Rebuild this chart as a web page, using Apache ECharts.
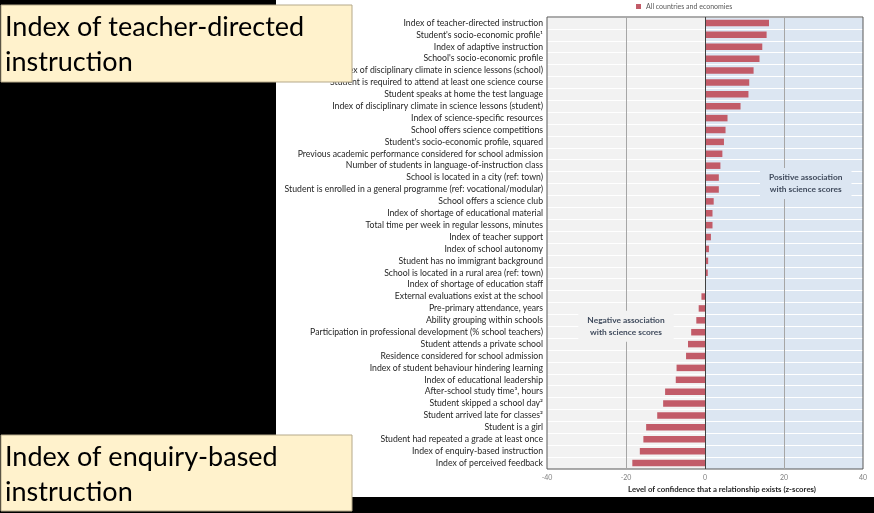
<!DOCTYPE html>
<html>
<head>
<meta charset="utf-8">
<script src="https://cdn.jsdelivr.net/npm/echarts@6/dist/echarts.min.js"></script>
<style>
html,body{margin:0;padding:0;background:#000;}
#chart{width:874px;height:513px;}
</style>
</head>
<body>
<div id="chart"></div>
<script>
const categories = [
  "Index of teacher-directed instruction",
  "Student's socio-economic profile\u00b9",
  "Index of adaptive instruction",
  "School's socio-economic profile",
  "Index of disciplinary climate in science lessons (school)",
  "Student is required to attend at least one science course",
  "Student speaks at home the test language",
  "Index of disciplinary climate in science lessons (student)",
  "Index of science-specific resources",
  "School offers science competitions",
  "Student's socio-economic profile, squared",
  "Previous academic performance considered for school admission",
  "Number of students in language-of-instruction class",
  "School is located in a city (ref: town)",
  "Student is enrolled in a general programme (ref: vocational/modular)",
  "School offers a science club",
  "Index of shortage of educational material",
  "Total time per week in regular lessons, minutes",
  "Index of teacher support",
  "Index of school autonomy",
  "Student has no immigrant background",
  "School is located in a rural area (ref: town)",
  "Index of shortage of education staff",
  "External evaluations exist at the school",
  "Pre-primary attendance, years",
  "Ability grouping within schools",
  "Participation in professional development (% school teachers)",
  "Student attends a private school",
  "Residence considered for school admission",
  "Index of student behaviour hindering learning",
  "Index of educational leadership",
  "After-school study time\u00b3, hours",
  "Student skipped a school day\u00b2",
  "Student arrived late for classes\u00b2",
  "Student is a girl",
  "Student had repeated a grade at least once",
  "Index of enquiry-based instruction",
  "Index of perceived feedback"
];
const zScores = [
  16.2, 15.6, 14.5, 13.8, 12.3, 11.2, 11.0, 9.0, 5.7, 5.2,
  4.8, 4.4, 3.9, 3.5, 3.5, 2.2, 1.9, 1.9, 1.5, 1.0,
  0.8, 0.7, 0.0, -0.9, -1.6, -2.2, -3.5, -4.3, -4.8, -7.2,
  -7.4, -10.1, -10.6, -12.1, -14.9, -15.6, -16.5, -18.4
];
const xTicks = [-40, -20, 0, 20, 40];
const seriesName = "All countries and economies";
const axisTitle = "Level of confidence that a relationship exists (z-scores)";
const positiveNote = "Positive association\nwith science scores";
const negativeNote = "Negative association\nwith science scores";
const topBoxText = "Index of teacher-directed\ninstruction";
const bottomBoxText = "Index of enquiry-based\ninstruction";

const chart = echarts.init(document.getElementById('chart'));
const GREY = '#f2f2f2', BLUE = '#dce6f2';
const innerTicks = xTicks.slice(1, -1);
const option = {
  animation: false,
  backgroundColor: 'transparent',
  textStyle: { fontFamily: 'Lato' },
  legend: {
    data: [seriesName], left: 631, top: 1, icon: 'rect',
    itemWidth: 5, itemHeight: 5, itemGap: 4, padding: [2, 5],
    textStyle: { fontSize: 7, color: '#595959', fontFamily: 'Lato' }
  },
  grid: {
    left: 547, right: 11, top: 17, bottom: 44, show: true, z: 5,
    borderColor: '#595959', borderWidth: 1, backgroundColor: 'transparent'
  },
  xAxis: {
    type: 'value', min: xTicks[0], max: xTicks[xTicks.length - 1], interval: 20,
    name: axisTitle, nameLocation: 'middle', nameGap: 16,
    nameTextStyle: { fontSize: 7.8, fontWeight: 'bold', color: '#262626', padding: [0, 0, 0, 34] },
    axisLine: { show: false }, axisTick: { show: false },
    axisLabel: { fontSize: 7, color: '#7f7f7f', margin: 5 },
    splitLine: { show: false },
    splitArea: { show: true, areaStyle: { color: [GREY, GREY, BLUE, BLUE] } }
  },
  yAxis: {
    type: 'category', data: categories, inverse: true, z: 1,
    axisLine: { show: false }, axisTick: { show: false },
    axisLabel: { fontSize: 8.7, color: '#262626', margin: 4, interval: 0, fontFamily: 'Lato' },
    splitLine: { show: true, interval: 0, lineStyle: { color: '#ffffff', width: 1 } }
  },
  series: [{
    name: seriesName, type: 'bar', data: zScores, barWidth: 6.5, z: 3,
    itemStyle: { color: '#c25b68' },
    markLine: {
      silent: true, symbol: 'none', label: { show: false }, animation: false,
      data: innerTicks.map(v => ({
        xAxis: v,
        lineStyle: { type: 'solid', width: 1, color: v === 0 ? '#404040' : '#a6a6a6' }
      }))
    }
  }]
};
chart.setOption(option);

function px(x, idx) { return chart.convertToPixel({ gridIndex: 0 }, [x, categories[idx]]); }
const p14 = px(25.5, 13), p15 = px(25.5, 14);
const n26 = px(-20, 25), n27 = px(-20, 26);
const noteFont = 'bold 8.4px Lato';
chart.setOption({
  graphic: [
    { type: 'rect', z: -100, silent: true, shape: { x: 276, y: 0, width: 598, height: 497 }, style: { fill: '#ffffff' } },
    { type: 'text', z: 10, style: { text: positiveNote, x: p14[0], y: (p14[1] + p15[1]) / 2, align: 'center', verticalAlign: 'middle',
        font: noteFont, fill: '#3f4a5c', lineHeight: 12.5, backgroundColor: BLUE, padding: [3, 9] } },
    { type: 'text', z: 10, style: { text: negativeNote, x: n26[0], y: (n26[1] + n27[1]) / 2, align: 'center', verticalAlign: 'middle',
        font: noteFont, fill: '#3f4a5c', lineHeight: 12.5, backgroundColor: GREY, padding: [3, 9] } },
    { type: 'rect', z: 20, shape: { x: 1, y: 5, width: 351, height: 77 }, style: { fill: '#fff2cc', stroke: '#b5a98a', lineWidth: 1 } },
    { type: 'text', z: 21, style: { text: topBoxText, x: 5, y: 45, verticalAlign: 'middle', font: '27px Lato', fill: '#000', lineHeight: 35 } },
    { type: 'rect', z: 20, shape: { x: 1, y: 435, width: 351, height: 76 }, style: { fill: '#fff2cc', stroke: '#b5a98a', lineWidth: 1 } },
    { type: 'text', z: 21, style: { text: bottomBoxText, x: 5, y: 475, verticalAlign: 'middle', font: '27px Lato', fill: '#000', lineHeight: 35 } }
  ]
});
</script>
</body>
</html>
